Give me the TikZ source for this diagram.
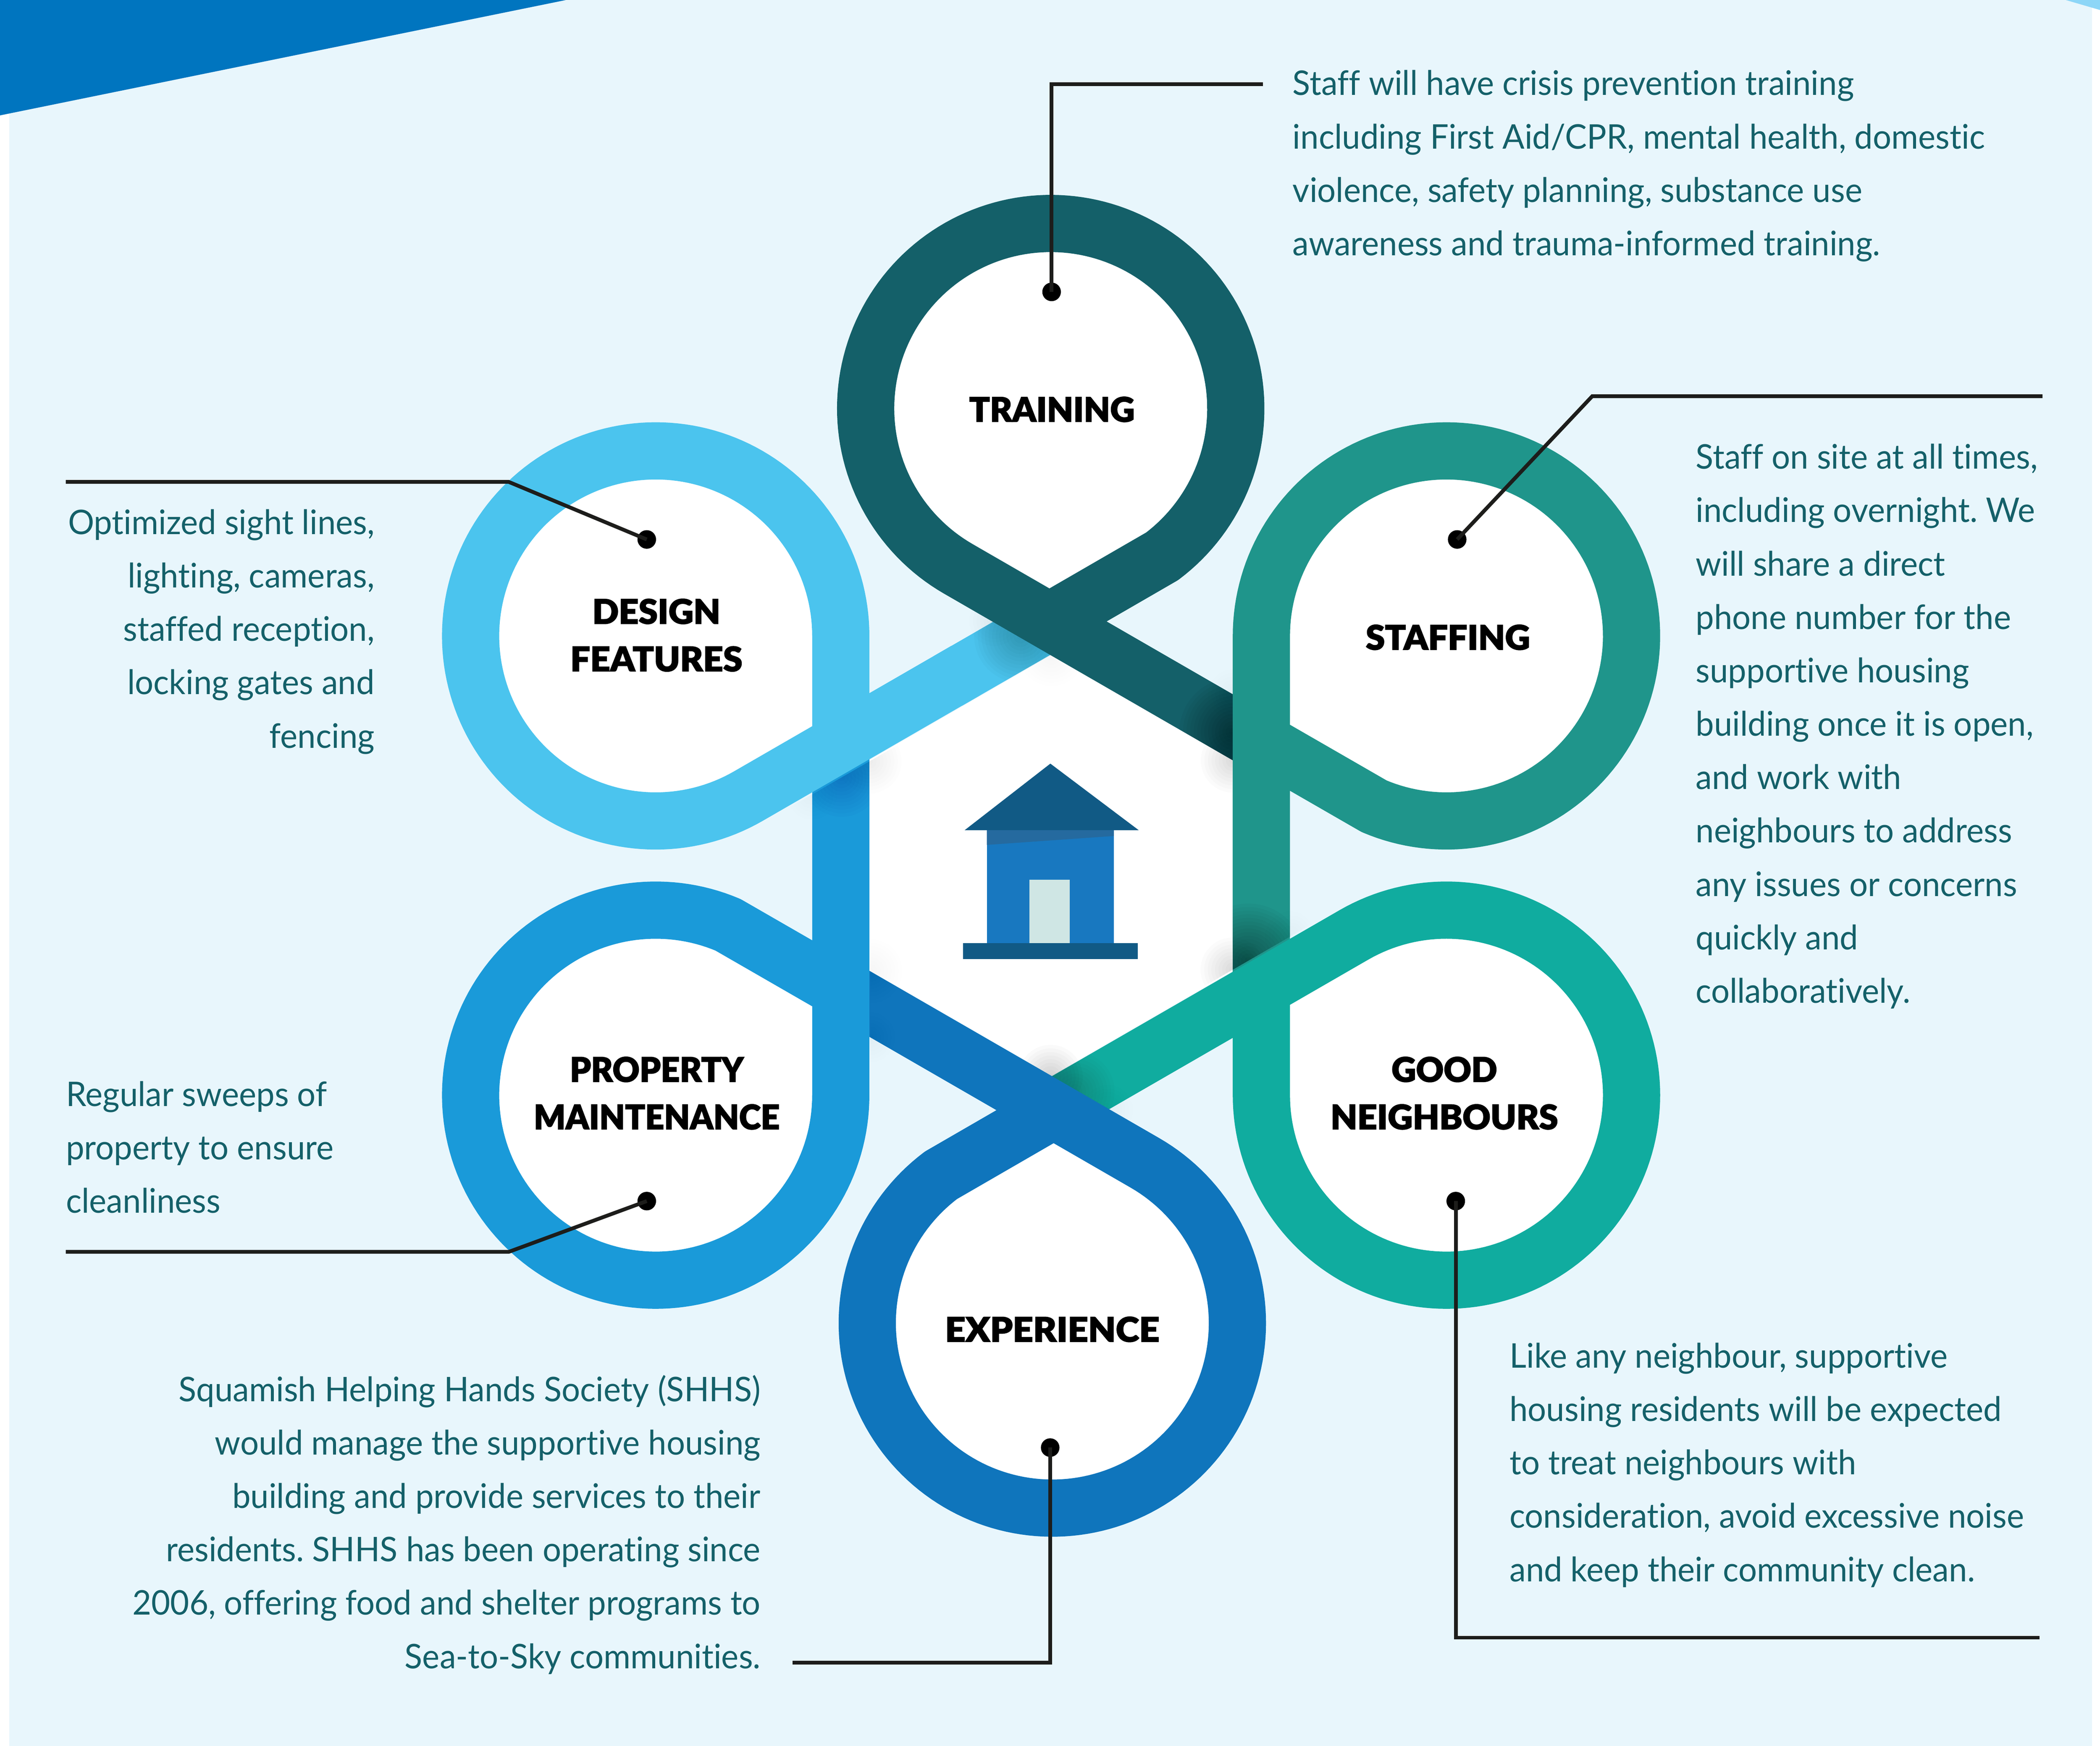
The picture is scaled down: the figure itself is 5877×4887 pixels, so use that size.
\documentclass[tikz,border=0pt]{standalone}
\usepackage{fontspec}
\setmainfont{Lato}[FakeStretch=0.964,Ligatures=NoCommon]
\newfontfamily\labfont{Lato Black}[FakeBold=2]
\frenchspacing
\definecolor{bgc}{HTML}{E8F6FC}
\definecolor{tric}{HTML}{0075BF}
\definecolor{tric2}{HTML}{8DD6F7}
\definecolor{txtc}{HTML}{146069}
\definecolor{linec}{HTML}{1D1D1B}
\definecolor{cT}{HTML}{146069}
\definecolor{cS}{HTML}{1F958B}
\definecolor{cG}{HTML}{10AC9F}
\definecolor{cE}{HTML}{0F75BC}
\definecolor{cP}{HTML}{1A9AD9}
\definecolor{cD}{HTML}{4BC4EE}
\definecolor{roofc}{HTML}{115A85}
\definecolor{bodyc}{HTML}{1878C0}
\definecolor{shadec}{HTML}{256A9F}
\definecolor{doorc}{HTML}{CFE6E4}
\newcommand{\apexy}{686}
\tikzset{
  x=0.01cm,y=-0.01cm,
  band/.style={line width=1.6cm,line cap=butt,line join=round},
  leader/.style={draw=linec,line width=3pt,line join=miter},
  dotn/.style={circle,fill=black,inner sep=0pt,minimum size=0.52cm},
  para/.style={inner sep=0pt,text=txtc,font=\frenchspacing\fontsize{27pt}{42.5pt}\selectfont},
  paral/.style={para,anchor=north west,align=left},
  parar/.style={para,anchor=north east,align=right},
  lab/.style={inner sep=0pt,align=center,text=black,font=\labfont\fontsize{27pt}{37.8pt}\selectfont},
  ringpart/.style={domain=-53:240,samples=147},
  smoothside/.style={/utils/exec={\def\apexy{681.9}},ringpart/.style={domain=-60:240,samples=151}},
  fT/.style={shift={(2940.5,2423.5)},rotate=0,y=0.01cm},
  fS/.style={shift={(2939.5,2420)},rotate=-60,y=0.01cm},
  fG/.style={shift={(2939.5,2425.5)},rotate=-120,y=0.01cm,smoothside},
  fE/.style={shift={(2945,2423.5)},rotate=-180,y=0.01cm},
  fP/.style={shift={(2943.5,2425.5)},rotate=-240,y=0.01cm},
  fD/.style={shift={(2943.5,2420)},rotate=-300,y=0.01cm,smoothside},
}
\newcommand{\fl}{\rule{0pt}{30pt}}
\newcommand{\teardrop}[1]{%
  \begin{scope}[#1]
    \fill[white] (0,\apexy) -- plot[ringpart] ({518*cos(\x)},{1280+518*sin(\x)}) -- cycle;
  \end{scope}}
\newcommand{\petal}[2]{%
  \begin{scope}[#1]
    \draw[band,draw=#2] (0,\apexy) -- plot[ringpart] ({518*cos(\x)},{1280+518*sin(\x)}) -- (589,341.8);
  \end{scope}}
\newcommand{\petalmain}[2]{%
  \begin{scope}[#1]
    \draw[band,draw=#2] (0,\apexy) -- plot[ringpart] ({518*cos(\x)},{1280+518*sin(\x)}) -- (350,480);
  \end{scope}}
\newcommand{\petalend}[2]{%
  \begin{scope}[#1]
    \draw[band,draw=#2] (300,508.7) -- (589,341.8);
  \end{scope}}
% #1 frame, #2 colour, #3 step opacity of the spot on the band, #4 its centre y,
% #5 its largest radius, #6 step opacity of the glow at the lower corner, #7 at the upper corner
\newcommand{\shadow}[7]{%
  \begin{scope}[#1]
    \begin{scope}
      \clip (-200,-100) rectangle (510,900);
      \foreach \r in {10,20,...,90}{\fill[black,opacity=#6] (510,295) circle[radius=\r*0.01cm];}
      \foreach \r in {10,20,...,70}{\fill[black,opacity=#7] (510,480) circle[radius=\r*0.01cm];}
    \end{scope}
    \begin{scope}
      \clip (510,480) -- (510,295) -- (250,445) -- (250,630) -- cycle;
      \foreach \r in {10,20,...,#5}{\fill[#2,opacity=#3] (510,#4) circle[radius=\r*0.01cm];}
    \end{scope}
  \end{scope}}
\begin{document}
\begin{tikzpicture}
\useasboundingbox (0,0) rectangle (5877,4887);
\fill[white] (0,0) rectangle (5877,4887);
\fill[bgc] (26,0) rectangle (5855,4887);
\fill[tric] (0,0) -- (1584,0) -- (0,323) -- cycle;
\fill[tric2] (5781,0) -- (5877,0) -- (5877,28) -- cycle;
\begin{scope}[shift={(2943,2422)},y=0.01cm]
  \fill[white] (90:589) -- (30:589) -- (-30:589) -- (-90:589) -- (-150:589) -- (150:589) -- cycle;
\end{scope}
\teardrop{fT}\teardrop{fS}\teardrop{fG}\teardrop{fE}\teardrop{fP}\teardrop{fD}
\petalend{fD}{cD}\shadow{fD}{cT}{0.035}{395}{130}{0.004}{0.008}
\petal{fT}{cT}\shadow{fT}{black}{0.03}{375}{150}{0.014}{0.005}
\petal{fS}{cS}\shadow{fS}{black}{0.026}{345}{160}{0.014}{0.004}
\petal{fG}{cG}\shadow{fG}{black!70!red}{0.014}{375}{110}{0.018}{0.003}
\petal{fE}{cE}\shadow{fE}{black}{0.0}{375}{20}{0.005}{0.005}
\petal{fP}{cP}\shadow{fP}{black!50!blue}{0.018}{385}{110}{0.006}{0.004}
\petalmain{fD}{cD}
% house
\fill[roofc] (2939.5,2137.5) -- (3187,2324) -- (2699.4,2324) -- cycle;
\fill[bodyc] (2761.6,2324) rectangle (3117.4,2639.4);
\fill[shadec] (2761.6,2324) -- (3117.4,2324) -- (3117.4,2340) -- (2761.6,2365) -- cycle;
\fill[doorc] (2881,2463) rectangle (2994,2639.4);
\fill[roofc] (2695.6,2639.4) rectangle (3184,2684);
% labels
\node[lab] (lT) at (2944,1146) {TRAINING};
\node[lab] (lS) at (4052,1784) {\scalebox{1.02}[1]{STAFFING}};
\node[lab] (lD) at (1837,1778) {\scalebox{1.02}[1]{DESIGN}\\\scalebox{1.03}[1]{FEATURES}};
\node[lab] (lP) at (1838,3060) {\scalebox{0.98}[1]{PROPERTY}\\\scalebox{0.975}[1]{MAINTENANCE}};
\node[lab] (lG) at (4042,3060) {GOOD\\\scalebox{1.015}[1]{NEIGHBOURS}};
\node[lab] (lE) at (2945,3721) {\scalebox{1.05}[1]{EXPERIENCE}};
% leaders
\node[dotn] (dT) at (2943,817) {};
\node[dotn] (dS) at (4078,1510) {};
\node[dotn] (dD) at (1810,1510) {};
\node[dotn] (dP) at (1810,3362) {};
\node[dotn] (dG) at (4074,3362) {};
\node[dotn] (dE) at (2939,4052) {};
\coordinate (eT) at (2943,236);  \coordinate (fT) at (3534,236);
\coordinate (eS) at (4456,1109); \coordinate (fS) at (5716,1109);
\coordinate (eD) at (1424,1349); \coordinate (fD) at (184,1349);
\coordinate (eP) at (1424,3504); \coordinate (fP) at (184,3504);
\coordinate (eG) at (4074,4584); \coordinate (fG) at (5708,4584);
\coordinate (eE) at (2939,4653.5); \coordinate (fE) at (2218,4653.5);
\draw[leader] (dT.center) -- (eT) -- (fT);
\draw[leader] (dS.center) -- (eS) -- (fS);
\draw[leader] (dD.center) -- (eD) -- (fD);
\draw[leader] (dP.center) -- (eP) -- (fP);
\draw[leader] (dG.center) -- (eG) -- (fG);
\draw[leader] (dE.center) -- (eE) -- (fE);
% paragraphs (y is the first baseline)
\node[paral,yshift=30pt] (tT) at (3617,266) {\fl Staff will have crisis prevention training\\including First Aid/CPR, mental health, domestic\\violence, safety planning, substance use\\awareness and trauma-informed training.};
\node[paral,yshift=30pt] (tS) at (4745,1312) {\fl Staff on site at all times,\\including overnight. We\\will share a direct\\phone number for the\\supportive housing\\building once it is open,\\and work with\\neighbours to address\\any issues or concerns\\quickly and\\collaboratively.};
\node[parar,yshift=30pt] (tD) at (1049,1495) {\fl Optimized sight lines,\\lighting, cameras,\\staffed reception,\\locking gates and\\fencing};
\node[paral,yshift=30pt] (tP) at (184,3096) {\fl Regular sweeps of\\property to ensure\\cleanliness};
\node[paral,yshift=30pt] (tG) at (4224,3828) {\fl Like any neighbour, supportive\\housing residents will be expected\\to treat neighbours with\\consideration, avoid excessive noise\\and keep their community clean.};
\node[parar,yshift=30pt] (tE) at (2129,3922) {\fl Squamish Helping Hands Society (SHHS)\\would manage the supportive housing\\building and provide services to their\\residents. SHHS has been operating since\\2006, offering food and shelter programs to\\Sea-to-Sky communities.};
\end{tikzpicture}
\end{document}
